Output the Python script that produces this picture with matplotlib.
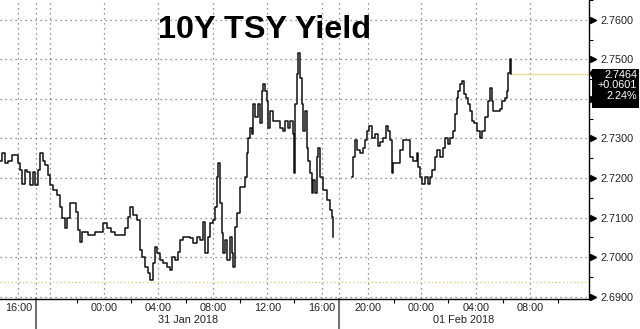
import numpy as np
import matplotlib
matplotlib.use('Agg')
import matplotlib.pyplot as plt
import matplotlib.transforms as mtransforms
from matplotlib.patches import Rectangle, Polygon

# session hours (compressed axis, 0 = 31 Jan 00:00) and 10Y yield
hours_a = [-7.65, -7.50, -7.28, -7.06, -6.76, -6.54, -6.32, -6.18, -6.03, -5.81,
           -5.66, -5.44, -5.22, -5.07, -4.85, -4.71, -4.49, -4.34, -4.12, -3.97,
           -3.75, -3.46, -3.24, -3.09, -2.87, -2.72, -2.50, -2.28, -2.06, -1.91,
           -1.76, -1.62, -1.40, -1.18, -0.88, -0.66, -0.29, -0.07, 0.22, 0.51,
           0.81, 1.25, 1.54, 1.76, 1.91, 2.13, 2.43, 2.65, 2.79, 3.01,
           3.24, 3.38, 3.60, 3.75, 3.90, 4.12, 4.34, 4.63, 4.85, 5.00,
           5.22, 5.44, 5.59, 5.81, 6.32, 6.54, 6.84, 7.06, 7.28, 7.43,
           7.65, 7.79, 8.01, 8.16, 8.31, 8.38, 8.53, 8.68, 8.75, 8.90,
           9.04, 9.26, 9.41, 9.49, 9.63, 9.78, 10.00, 10.22, 10.37, 10.51,
           10.59, 10.74, 10.88, 10.96, 11.10, 11.32, 11.47, 11.62, 11.69, 11.84,
           11.99, 12.06, 12.21, 12.43, 12.72, 12.94, 13.16, 13.31, 13.53, 13.68,
           13.90, 13.97, 14.04, 14.19, 14.26, 14.41, 14.56, 14.63, 14.78, 14.93,
           15.00, 15.15, 15.29, 15.37, 15.51, 15.66, 15.74, 15.88, 16.10, 16.40,
           16.62, 16.76, 16.84]
yield_a = [2.7244, 2.7262, 2.7237, 2.7244, 2.7257, 2.7259, 2.7239, 2.7219, 2.7186, 2.7219,
           2.7214, 2.7181, 2.7214, 2.7181, 2.7219, 2.7262, 2.7244, 2.7232, 2.7207, 2.7181,
           2.7169, 2.7156, 2.7126, 2.7098, 2.7073, 2.7098, 2.7136, 2.7136, 2.7113, 2.7068,
           2.7038, 2.7063, 2.7063, 2.7055, 2.7055, 2.7063, 2.7063, 2.7086, 2.7073, 2.7063,
           2.7055, 2.7055, 2.7073, 2.7101, 2.7126, 2.7106, 2.7093, 2.7018, 2.7000, 2.6975,
           2.6960, 2.6942, 2.6985, 2.7025, 2.7010, 2.6992, 2.6985, 2.6975, 2.6967, 2.7000,
           2.6992, 2.7013, 2.7043, 2.7050, 2.7048, 2.7035, 2.7050, 2.7043, 2.7088, 2.7010,
           2.7050, 2.7086, 2.7093, 2.7126, 2.7202, 2.7237, 2.7136, 2.7060, 2.7010, 2.7043,
           2.6992, 2.7050, 2.7010, 2.6975, 2.7076, 2.7111, 2.7176, 2.7176, 2.7202, 2.7262,
           2.7302, 2.7327, 2.7312, 2.7388, 2.7353, 2.7388, 2.7338, 2.7421, 2.7438, 2.7421,
           2.7395, 2.7327, 2.7370, 2.7345, 2.7345, 2.7327, 2.7320, 2.7345, 2.7327, 2.7345,
           2.7312, 2.7212, 2.7388, 2.7463, 2.7516, 2.7453, 2.7388, 2.7320, 2.7370, 2.7277,
           2.7244, 2.7212, 2.7161, 2.7194, 2.7161, 2.7252, 2.7277, 2.7202, 2.7169, 2.7144,
           2.7118, 2.7101, 2.7050]

hours_b = [18.24, 18.31, 18.46, 18.60, 18.82, 19.04, 19.19, 19.34, 19.49, 19.71,
           19.93, 20.15, 20.29, 20.51, 20.74, 20.88, 21.03, 21.18, 21.25, 21.54,
           21.76, 21.99, 22.28, 22.50, 22.72, 23.01, 23.09, 23.24, 23.38, 23.60,
           23.82, 23.97, 24.12, 24.34, 24.49, 24.71, 24.93, 25.07, 25.29, 25.44,
           25.66, 25.81, 25.96, 26.03, 26.18, 26.32, 26.47, 26.62, 26.76, 26.91,
           27.06, 27.21, 27.43, 27.65, 27.79, 28.01, 28.24, 28.38, 28.53, 28.60,
           28.82, 29.12, 29.26, 29.49, 29.63, 29.71, 29.85, 29.93]
yield_b = [2.7202, 2.7252, 2.7295, 2.7270, 2.7262, 2.7277, 2.7295, 2.7320, 2.7332, 2.7302,
           2.7312, 2.7282, 2.7290, 2.7302, 2.7332, 2.7320, 2.7295, 2.7212, 2.7237, 2.7237,
           2.7270, 2.7295, 2.7295, 2.7252, 2.7244, 2.7262, 2.7227, 2.7202, 2.7186, 2.7202,
           2.7186, 2.7202, 2.7219, 2.7252, 2.7270, 2.7252, 2.7277, 2.7302, 2.7287, 2.7302,
           2.7320, 2.7363, 2.7403, 2.7421, 2.7438, 2.7446, 2.7413, 2.7403, 2.7388, 2.7370,
           2.7345, 2.7338, 2.7320, 2.7302, 2.7320, 2.7353, 2.7395, 2.7428, 2.7395, 2.7370,
           2.7370, 2.7375, 2.7395, 2.7403, 2.7421, 2.7466, 2.7501, 2.7464]

last = 2.7464
change = '+0.0601'
pct = '2.24%'
range_low = 2.6937

tick_pos = [-6.3, -4.0, 0.0, 4.0, 8.0, 12.0, 16.0, 19.4, 23.3, 27.35, 31.35]
tick_lab = ['16:00', '', '00:00', '04:00', '08:00', '12:00', '16:00',
            '20:00', '00:00', '04:00', '08:00']
minor_pos = [-2.0, 2.0, 6.0, 10.0, 14.0, 21.35, 25.3, 29.35, 33.35]
sep_pos = [-5.0, 17.28]
date_pos = [6.2, 26.45]
date_lab = ['31 Jan 2018', '01 Feb 2018']
y_major = [2.69, 2.70, 2.71, 2.72, 2.73, 2.74, 2.75, 2.76]

fig = plt.figure(figsize=(6.4, 3.29), dpi=100)
ax = fig.add_axes([0.0, 30 / 329, 589 / 640, 299 / 329])

ax.plot(hours_a, yield_a, drawstyle='steps-post', color='#111111', lw=1.1, zorder=3)
ax.plot(hours_b, yield_b, drawstyle='steps-post', color='#111111', lw=1.1, zorder=3)

ax.set_xlim(-7.65, 35.66)
ax.set_ylim(2.6894, 2.7647)

# last price line and range low
ax.plot([hours_b[-1], 35.66], [last, last], color='#e8e090', lw=1.0, zorder=2)
ax.axhline(range_low, color='#d8cc70', lw=0.9, ls=(0, (1, 2)), zorder=2)

ax.set_xticks(tick_pos)
ax.set_xticklabels(tick_lab)
ax.set_xticks(minor_pos, minor=True)
ax.set_yticks(y_major)
ax.set_yticklabels(['%.4f' % v if abs(v - 2.74) > 1e-6 else '' for v in y_major])
ax.set_yticks(np.arange(2.695, 2.766, 0.01), minor=True)
ax.yaxis.tick_right()

for t in ax.get_xticklabels() + ax.get_yticklabels():
    t.set_family('Liberation Sans')
    t.set_fontsize(7.8)
    t.set_color('#222222')

ax.tick_params(axis='x', which='major', length=0, pad=3)
ax.tick_params(axis='x', which='minor', length=3, width=0.8, direction='out')
ax.tick_params(axis='y', which='major', length=0, pad=8)
ax.tick_params(axis='y', which='minor', length=3, width=0.8, direction='out')

grid_kw = dict(color='#707070', lw=0.9, ls=(0, (1, 3)))
for v in y_major:
    ax.axhline(v, zorder=1, **grid_kw)
for p in tick_pos + sep_pos:
    ax.axvline(p, zorder=1, **grid_kw)

for s in ['left', 'top']:
    ax.spines[s].set_visible(False)
for s in ['right', 'bottom']:
    ax.spines[s].set_color('black')
    ax.spines[s].set_linewidth(1.0)

# triangle markers on the price axis
tr_y = mtransforms.blended_transform_factory(ax.transAxes, ax.transData)
ax.plot([1.006] * len(y_major), y_major, ls='none', marker='>', ms=4,
        color='black', transform=tr_y, clip_on=False)

# session separators below the axis
tr_x = mtransforms.blended_transform_factory(ax.transData, ax.transAxes)
for p in sep_pos:
    ax.plot([p, p], [0, -0.1], color='#555555', lw=1.2, transform=tr_x, clip_on=False)

for p, lab in zip(date_pos, date_lab):
    ax.text(p, -0.052, lab, transform=tr_x, ha='center', va='top',
            family='Liberation Sans', fontsize=7.8, color='#222222')

# last value box
box_h = 40 / 299 * (2.7647 - 2.6894)
top = last + 5 / 299 * (2.7647 - 2.6894)
ax.add_patch(Rectangle((592 / 589, top - box_h), 47 / 589, box_h, transform=tr_y,
                       facecolor='black', edgecolor='none', clip_on=False, zorder=5))
ax.add_patch(Polygon([(1.0, last), (593 / 589, last + 0.0013), (593 / 589, last - 0.0013)],
                     closed=True, transform=tr_y, facecolor='black', edgecolor='none',
                     clip_on=False, zorder=5))
ax.text(637 / 589, top - 0.0003, '%.4f\n%s\n%s' % (last, change, pct), transform=tr_y,
        ha='right', va='top', multialignment='right', linespacing=1.05,
        family='Liberation Sans', fontsize=7.8, color='white', zorder=6)

fig.text(158 / 640, 1 - 38 / 329, '10Y TSY Yield', family='Liberation Sans',
         fontweight='bold', fontsize=23.3, color='black', va='baseline', ha='left')

fig.savefig('out.png', dpi=100, facecolor='white')
